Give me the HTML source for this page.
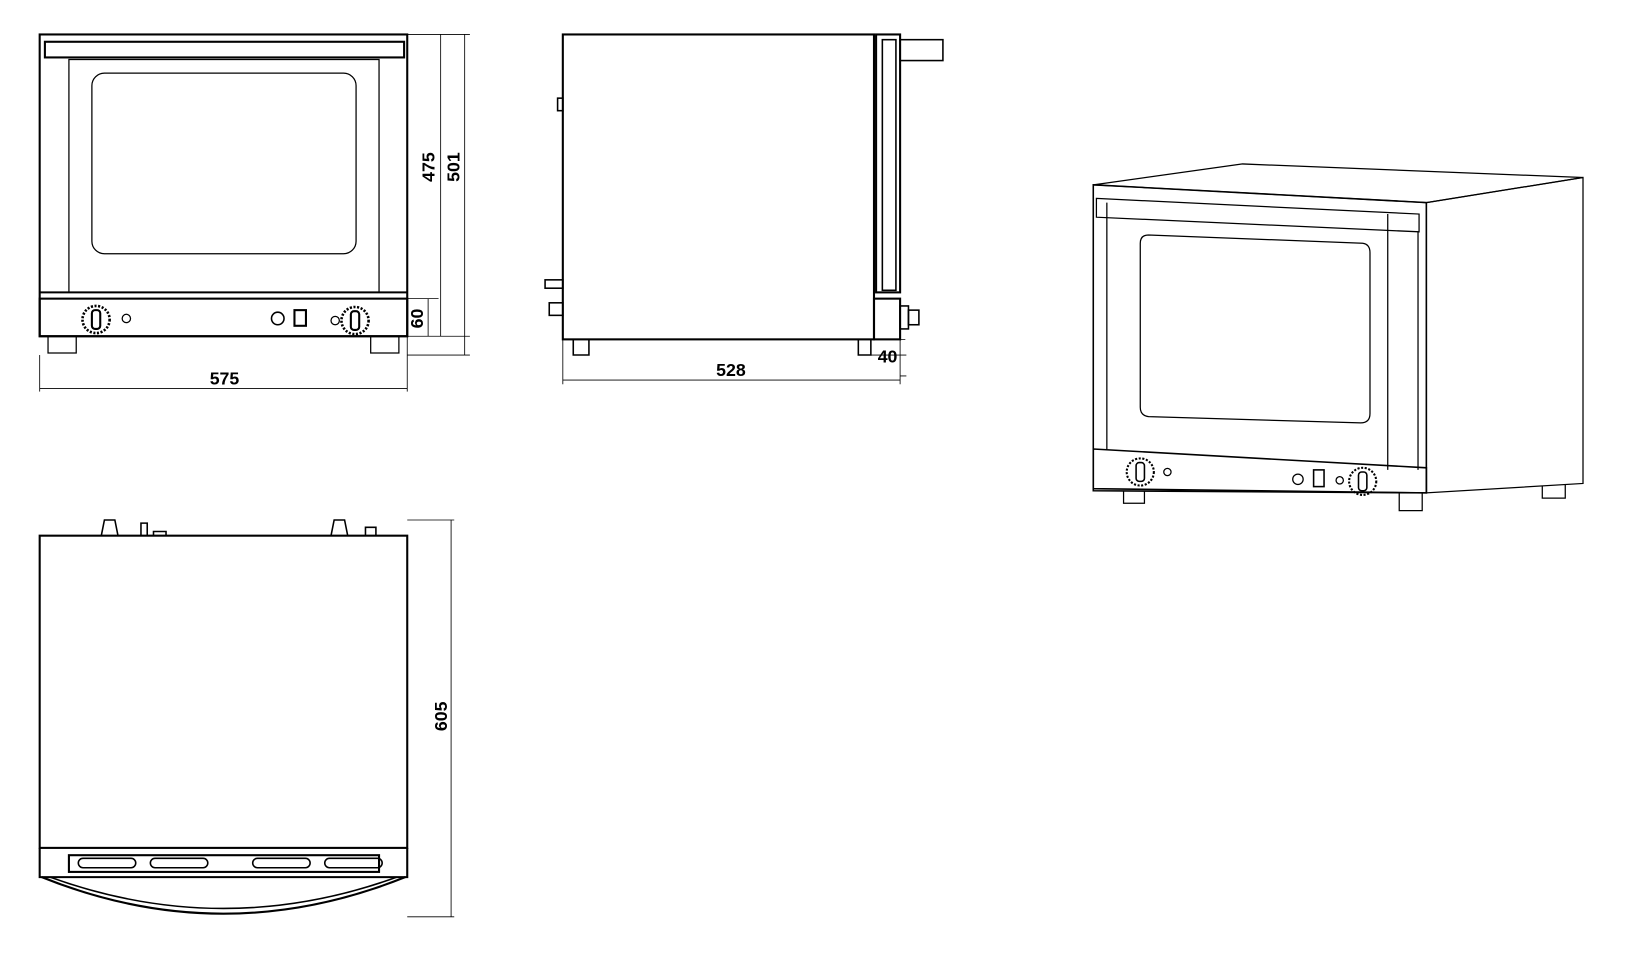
<!DOCTYPE html>
<html><head><meta charset="utf-8"><style>html,body{margin:0;padding:0;background:#fff}svg{display:block}</style></head>
<body>
<svg width="1629" height="954" viewBox="0 0 1629 954" xmlns="http://www.w3.org/2000/svg" fill="none" stroke="#000" font-family="Liberation Sans Narrow, Liberation Sans, sans-serif">
<g transform="scale(1.0442)">
<!-- FRONT VIEW -->
<g stroke-width="1.2">
<rect x="38" y="33" width="352" height="289" stroke-width="2"/>
<rect x="43" y="40" width="344" height="15" stroke-width="2"/>
<rect x="66" y="57" width="297" height="223"/>
<rect x="88" y="70" width="253" height="173" rx="12"/>
<line x1="38" y1="280" x2="390" y2="280" stroke-width="2"/>
<rect x="38" y="286" width="352" height="36" stroke-width="2"/>
<circle cx="92" cy="306" r="13" stroke-width="2.5" stroke-dasharray="2 1.5"/>
<rect x="88" y="297" width="8" height="18" rx="3" stroke-width="2"/>
<circle cx="121" cy="305" r="4"/>
<circle cx="266" cy="305" r="6" stroke-width="1.5"/>
<rect x="282" y="297" width="11" height="15" stroke-width="2"/>
<circle cx="321" cy="307" r="4"/>
<circle cx="340" cy="307" r="13" stroke-width="2.5" stroke-dasharray="2 1.5"/>
<rect x="336" y="298" width="8" height="18" rx="3" stroke-width="2"/>
<path d="M46 322v16h27v-16M355 322v16h27v-16"/>
</g>
<g stroke-width="0.8">
<path d="M390 33h60M390 322h60M390 340h60M390 286h30"/>
<line x1="422" y1="33" x2="422" y2="322"/><line x1="445" y1="33" x2="445" y2="340"/>
<line x1="410" y1="286" x2="410" y2="322"/>
<line x1="38" y1="340" x2="38" y2="375"/><line x1="390" y1="322" x2="390" y2="375"/>
<line x1="38" y1="372" x2="390" y2="372"/>
</g>
<g fill="#000" stroke="none" font-size="17" font-weight="bold">
<text x="215" y="368" text-anchor="middle">575</text>
<text transform="translate(416 160) rotate(-90)" text-anchor="middle">475</text>
<text transform="translate(440 160) rotate(-90)" text-anchor="middle">501</text>
<text transform="translate(405 305) rotate(-90)" text-anchor="middle">60</text>
</g>
<!-- SIDE VIEW -->
<g stroke-width="1.5">
<rect x="539" y="33" width="298" height="292" stroke-width="2"/>
<rect x="839" y="33" width="23" height="247" stroke-width="2"/>
<rect x="845" y="38" width="13" height="240"/>
<rect x="862" y="38" width="41" height="20"/>
<rect x="837" y="286" width="25" height="39" stroke-width="2"/>
<rect x="862" y="293" width="8" height="22"/><rect x="870" y="297" width="10" height="14"/>
<rect x="522" y="268" width="17" height="8"/><rect x="526" y="290" width="13" height="12"/>
<rect x="534" y="94" width="5" height="12"/>
<path d="M549 325v15h15v-15M822 325v15h12v-15"/>
</g>
<g stroke-width="0.8">
<line x1="539" y1="325" x2="539" y2="368"/><line x1="862" y1="325" x2="862" y2="368"/>
<line x1="539" y1="364" x2="862" y2="364"/>
<path d="M862 325h5M834 340h34M862 360h6"/>
</g>
<g fill="#000" stroke="none" font-size="17" font-weight="bold">
<text x="700" y="360" text-anchor="middle">528</text>
<text x="850" y="347" text-anchor="middle">40</text>
</g>
<!-- TOP VIEW -->
<g stroke-width="1.5">
<rect x="38" y="513" width="352" height="299" stroke-width="2"/>
<path d="M38 812v28h352v-28" stroke-width="2"/>
<rect x="66" y="819" width="297" height="16" stroke-width="2"/>
<rect x="75" y="822" width="55" height="9" rx="4.5"/><rect x="144" y="822" width="55" height="9" rx="4.5"/>
<rect x="242" y="822" width="55" height="9" rx="4.5"/><rect x="311" y="822" width="55" height="9" rx="4.5"/>
<path d="M40 840Q214 910 388 840" stroke-width="2"/>
<path d="M48 840Q214 900 380 840"/>
<path d="M97 513l3-15h10l3 15M317 513l3-15h10l3 15M350 513v-8h10v8M135 513v-12h6v12M147 513v-4h12v4"/>
</g>
<g stroke-width="0.8">
<path d="M390 498h45M390 878h45"/>
<line x1="432" y1="498" x2="432" y2="878"/>
</g>
<text transform="translate(428 686) rotate(-90)" text-anchor="middle" fill="#000" stroke="none" font-size="17" font-weight="bold">605</text>
<!-- 3D VIEW -->
<g stroke-width="1.2">
<path d="M1047 177L1190 157L1516 170L1366 194Z"/>
<path d="M1366 194L1516 170V463L1366 472Z"/>
<path d="M1047 177L1366 194V472L1047 470Z" stroke-width="1.5"/>
<path d="M1050 190L1359 205V222L1050 208Z"/>
<path d="M1060 194V430M1329 205V450M1358 222V450"/>
<path d="M1100 225L1305 233Q1312 234 1312 242V396Q1312 405 1303 405L1100 399Q1092 398 1092 390V233Q1092 225 1100 225Z"/>
<path d="M1047 430L1366 448V472L1047 468Z" stroke-width="1.5"/>
<circle cx="1092" cy="452" r="13" stroke-width="2" stroke-dasharray="2 1.5"/>
<rect x="1088" y="443" width="8" height="18" rx="3" stroke-width="1.5"/>
<circle cx="1118" cy="452" r="3.5"/>
<circle cx="1243" cy="459" r="5"/>
<rect x="1258" y="450" width="10" height="16" stroke-width="1.5"/>
<circle cx="1283" cy="460" r="3.5"/>
<circle cx="1305" cy="461" r="13" stroke-width="2" stroke-dasharray="2 1.5"/>
<rect x="1301" y="452" width="8" height="18" rx="3" stroke-width="1.5"/>
<path d="M1076 470v12h20v-12M1340 472v17h22v-17M1477 465v12h22v-13"/>
</g>
</g>
</svg>
</body></html>
